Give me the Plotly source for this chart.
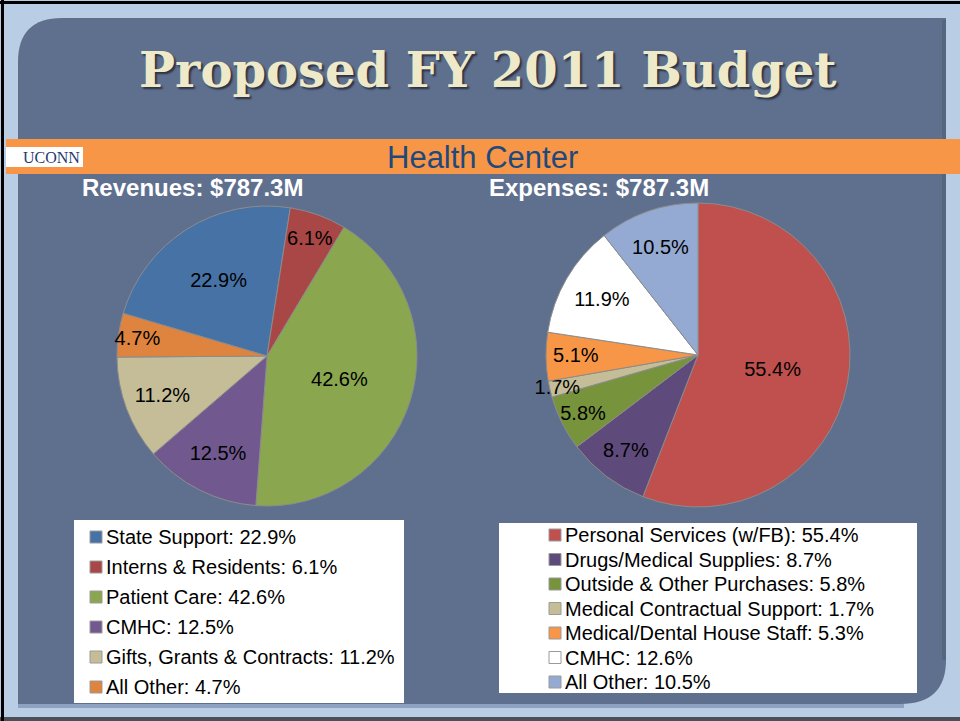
import plotly.graph_objects as go

W, H = 960, 721

# revenues pie
rev_labels = ["State Support", "Interns & Residents", "Patient Care", "CMHC",
              "Gifts, Grants & Contracts", "All Other"]
rev_pct = [22.9, 6.1, 42.6, 12.5, 11.2, 4.7]
rev_colors = ["#4672a6", "#a84745", "#8aa64f", "#71598f", "#c4bd97", "#de843f"]

# expenses pie (slice labels and legend box disagree on two items in the original)
exp_labels = ["Personal Services (w/FB)", "Drugs/Medical Supplies", "Outside & Other Purchases",
              "Medical Contractual Support", "Medical/Dental House Staff", "CMHC", "All Other"]
exp_pct = [55.4, 8.7, 5.8, 1.7, 5.1, 11.9, 10.5]
exp_legend_pct = [55.4, 8.7, 5.8, 1.7, 5.3, 12.6, 10.5]
exp_colors = ["#c0504d", "#5f4b7b", "#77933c", "#c4bd97", "#f79646", "#ffffff", "#94aad3"]

FONT = "Arial, Liberation Sans, sans-serif"
PANEL = "#5f708f"


def px(x):
    return x / W


def py(y):
    return 1 - y / H


def rect(x0, y0, x1, y1, fill, line=None, width=0, layer="below"):
    return dict(type="rect", xref="paper", yref="paper",
                x0=px(x0), x1=px(x1), y0=py(y1), y1=py(y0),
                fillcolor=fill, line=dict(color=line or fill, width=width), layer=layer)


def text(x, y, s, size, color="black", anchor="left", family=FONT, weight="normal", shadow="none"):
    return dict(x=px(x), y=py(y), xref="paper", yref="paper", text=s, showarrow=False,
                xanchor=anchor, yanchor="middle",
                font=dict(family=family, size=size, color=color, weight=weight, shadow=shadow))


def pie(values, labels, colors, rotation, cx, cy, r):
    return go.Pie(
        values=values, labels=labels,
        text=[f"{v}%" for v in values], textinfo="text",
        sort=False, direction="clockwise", rotation=rotation,
        marker=dict(colors=colors, line=dict(color="#8c8c8c", width=1)),
        textposition="inside", insidetextorientation="horizontal",
        textfont=dict(family=FONT, size=20, color="black"),
        domain=dict(x=[px(cx - r), px(cx + r)], y=[py(cy + r), py(cy - r)]),
        showlegend=False, hoverinfo="label+text",
    )


fig = go.Figure([
    pie(rev_pct, rev_labels, rev_colors, -73.5, 267, 356, 150),
    pie(exp_pct, exp_labels, exp_colors, 0, 698, 355, 152),
])

# slide background: rounded dark panel on light blue
panel_path = ("M {0},{1} Q {2},{3} {4},{5} L {6},{5} L {6},{7} Q {6},{8} {9},{8} L {2},{8} Z".format(
    px(18), py(62), px(18), py(18), px(62), py(18), px(946), py(660), py(704), px(900)))
shapes = [
    rect(0, 717, 960, 721, "#4a4f5a"),
    rect(18, 700, 904, 708, "#8ea1c0"),
    dict(type="path", path=panel_path, xref="paper", yref="paper",
         fillcolor=PANEL, line=dict(width=0), layer="below"),
    rect(942, 20, 946, 660, "#56667f"),
    rect(6, 139, 960, 174, "#f79646"),
    rect(6, 147, 83, 167, "white"),
    rect(74, 520, 404, 703, "white"),
    rect(499, 523, 917, 693, "white"),
    # black frame on the top and left edge of the slide
    rect(0, 1, 960, 4, "black", layer="above"),
    rect(1, 0, 4, 721, "black", layer="above"),
]

annotations = [
    text(487, 70, "Proposed FY 2011 Budget", 48, "#eee9c9", "center", "DejaVu Serif", "bold",
         shadow="2px 2px 2px #2a3040"),
    text(482, 157, "Health Center", 31, "#1f497d", "center"),
    text(21, 157, "UCONN", 16, "#1f3a6e", "left", "Liberation Serif, serif"),
    text(80, 187, "Revenues: $787.3M", 24, "white", "left", FONT, "bold"),
    text(487, 187, "Expenses: $787.3M", 24, "white", "left", FONT, "bold"),
]

# legend boxes
for i, (lab, v, c) in enumerate(zip(rev_labels, rev_pct, rev_colors)):
    y = 537 + i * 30
    shapes.append(dict(type="rect", xref="paper", yref="paper",
                       x0=px(90), x1=px(102), y0=py(y + 6), y1=py(y - 6),
                       fillcolor=c, line=dict(color="#9a9a9a", width=1)))
    annotations.append(text(104, y, f"{lab}: {v}%", 20))

for i, (lab, v, c) in enumerate(zip(exp_labels, exp_legend_pct, exp_colors)):
    y = 535 + i * 24.5
    shapes.append(dict(type="rect", xref="paper", yref="paper",
                       x0=px(549), x1=px(561), y0=py(y + 6), y1=py(y - 6),
                       fillcolor=c, line=dict(color="#9a9a9a", width=1)))
    annotations.append(text(563, y, f"{lab}: {v}%", 20))

fig.update_layout(
    width=W, height=H,
    margin=dict(l=0, r=0, t=0, b=0),
    paper_bgcolor="#b9cde5",
    plot_bgcolor="#b9cde5",
    shapes=shapes,
    annotations=annotations,
    uniformtext=dict(minsize=20, mode="show"),
)

# page body has an 8px default margin; drop it so the slide sits at the window corner
fig.write_html("out.html", config={"displayModeBar": False},
               post_script="document.body.style.margin='0';")
